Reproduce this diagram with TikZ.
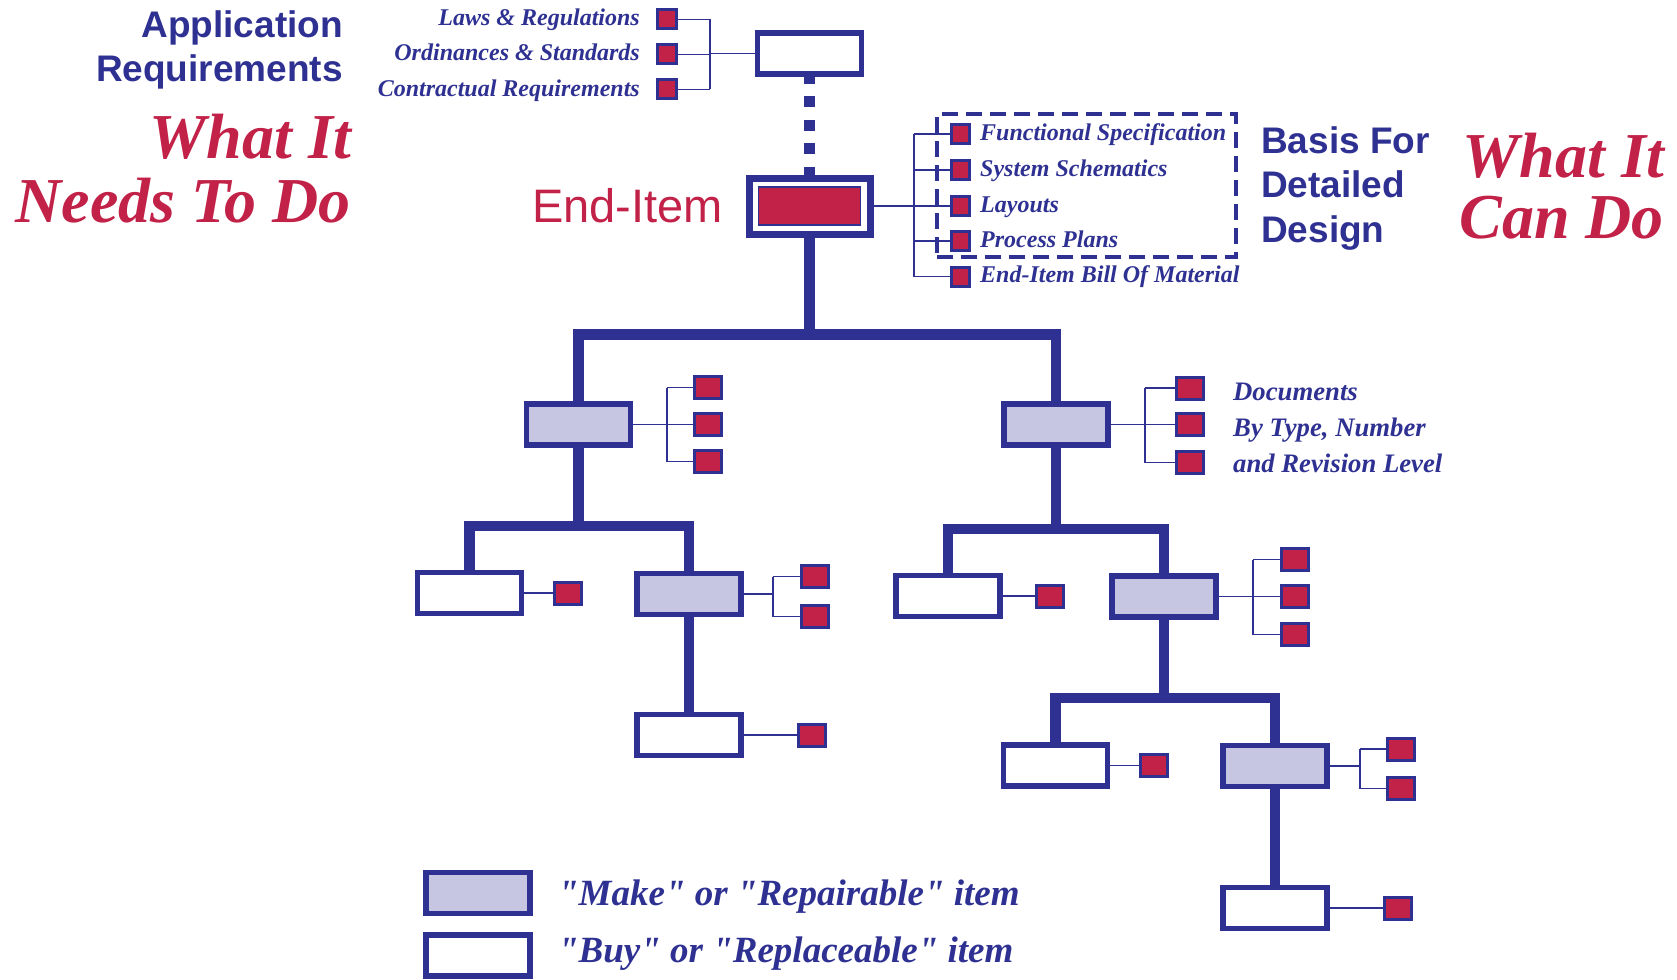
\documentclass[tikz,border=0pt]{standalone}
\usepackage{fontspec}
\setmainfont{Liberation Serif}
\newfontfamily\hv{Liberation Sans}
% legend font keeps the straight double quote as typed
\newfontfamily\plainserif{Liberation Serif}[Ligatures=TeXOff]
\definecolor{navy}{RGB}{46,49,146}
\definecolor{crim}{RGB}{194,33,72}
\definecolor{lav}{RGB}{199,198,226}

\begin{document}
\begin{tikzpicture}[x=1pt,y=-1pt,
  item/.style={draw=navy, line width=5.5pt, minimum width=104pt, minimum height=41pt, inner sep=0pt},
  make/.style={item, fill=lav},
  buy/.style={item, fill=white},
  doc/.style={draw=navy, fill=crim, line width=3pt, minimum width=27pt, minimum height=22pt, inner sep=0pt},
  sdoc/.style={doc, minimum width=18.5pt, minimum height=19pt},
  stem/.style={draw=navy, line width=10.5pt},
  tie/.style={draw=navy, line width=1.4pt},
  lbl/.style={text=navy, inner sep=0pt, font=\fontsize{24}{28}\selectfont\bfseries\itshape},
  doclbl/.style={text=navy, inner sep=0pt, font=\fontsize{26.7}{30}\selectfont\bfseries\itshape},
  leglbl/.style={text=navy, inner sep=0pt, font=\fontsize{37}{42}\selectfont\plainserif\bfseries\itshape},
  headsans/.style={text=navy, inner sep=0pt, font=\fontsize{37}{44}\selectfont\hv\bfseries},
  bigred/.style={text=crim, inner sep=0pt, font=\fontsize{64}{70}\selectfont\bfseries\itshape},
]
\useasboundingbox (0,0) rectangle (1677,979);

% ---------- headings ----------
\node[headsans, anchor=base east] (ar1) at (343,37.5) {Application};
\node[headsans, anchor=base east] (ar2) at (343,82) {Requirements};
\node[bigred, anchor=base east] (wn1) at (351,158) {What It};
\node[bigred, anchor=base east] (wn2) at (351,222.5) {Needs To Do};
\node[headsans, anchor=base west] (bd1) at (1261,153) {Basis For};
\node[headsans, anchor=base west] (bd2) at (1261,197.5) {Detailed};
\node[headsans, anchor=base west] (bd3) at (1261,242) {Design};
\node[bigred, anchor=base east] (wc1) at (1664,177) {What It};
\node[bigred, anchor=base east] (wc2) at (1664,238.5) {Can Do};

% ---------- requirements box and end item ----------
\node[buy] (top) at (809.5,53.5) {};
\node[draw=navy, fill=white, line width=7pt, minimum width=121pt, minimum height=56pt, inner sep=0pt] (end) at (809.5,206) {};
\node[draw=navy, fill=crim, line width=1.2pt, minimum width=102pt, minimum height=38pt, inner sep=0pt] (endin) at (809.5,206) {};
\node[text=crim, inner sep=0pt, anchor=base east, font=\fontsize{47}{52}\selectfont\hv] (eil) at (723,222) {End-Item};
\draw[navy, line width=10.5pt, dash pattern=on 11pt off 12.5pt, dash phase=4pt] (top.south) -- (end.north);

% requirement sources
\node[sdoc] (rq1) at (667,19.5) {};
\node[sdoc] (rq2) at (667,54.5) {};
\node[sdoc] (rq3) at (667,89.5) {};
\node[lbl, anchor=base east] (rl1) at (640,25.5) {Laws \& Regulations};
\node[lbl, anchor=base east] (rl2) at (640,61) {Ordinances \& Standards};
\node[lbl, anchor=base east] (rl3) at (640,96.5) {Contractual Requirements};
\coordinate (kTop) at (710,53.5);
\draw[tie] (top.west) -- (kTop);
\draw[tie] (kTop |- rq1.east) -- (kTop |- rq3.east);
\foreach \d in {rq1,rq2,rq3} \draw[tie] (kTop |- \d.east) -- (\d.east);

% end-item documents
\node[draw=navy, line width=3.3pt, dash pattern=on 16pt off 8pt, minimum width=299pt, minimum height=143pt, inner sep=0pt] (grp) at (1086.5,185.5) {};
\node[sdoc] (ed1) at (960.5,134) {};
\node[sdoc] (ed2) at (960.5,170) {};
\node[sdoc] (ed3) at (960.5,206) {};
\node[sdoc] (ed4) at (960.5,241) {};
\node[sdoc] (ed5) at (960.5,276.5) {};
\node[lbl, anchor=base west] (el1) at (980,140) {Functional Specification};
\node[lbl, anchor=base west] (el2) at (980,176) {System Schematics};
\node[lbl, anchor=base west] (el3) at (980,212) {Layouts};
\node[lbl, anchor=base west] (el4) at (980,247) {Process Plans};
\node[lbl, anchor=base west] (el5) at (980,282.5) {End-Item Bill Of Material};
\coordinate (kEnd) at (914,206);
\draw[tie] (end.east) -- (kEnd);
\draw[tie] (kEnd |- ed1.west) -- (kEnd |- ed5.west);
\foreach \d in {ed1,ed2,ed3,ed4,ed5} \draw[tie] (kEnd |- \d.west) -- (\d.west);

% ---------- product tree ----------
\node[make] (L1) at (578.5,424.5) {};
\node[make] (R1) at (1056,424.5) {};
\node[buy]  (L2a) at (469.5,593) {};
\node[make] (L2b) at (689,594) {};
\node[buy]  (L3) at (689,735) {};
\node[buy]  (R2a) at (948,596) {};
\node[make] (R2b) at (1164,596.5) {};
\node[buy]  (R3a) at (1055.5,765.5) {};
\node[make] (R3b) at (1275,766) {};
\node[buy]  (R4) at (1275,908) {};

\coordinate (b0) at (809.5,334.5);
\coordinate (bL) at (578.5,526);
\coordinate (bR) at (1056,529);
\coordinate (bR2) at (1164,698);
\draw[stem] (end.south) -- (b0);
\draw[stem] (L1.north) |- (b0) -| (R1.north);
\draw[stem] (L1.south) -- (bL);
\draw[stem] (L2a.north) |- (bL) -| (L2b.north);
\draw[stem] (L2b.south) -- (L3.north);
\draw[stem] (R1.south) -- (bR);
\draw[stem] (R2a.north) |- (bR) -| (R2b.north);
\draw[stem] (R2b.south) -- (bR2);
\draw[stem] (R3a.north) |- (bR2) -| (R3b.north);
\draw[stem] (R3b.south) -- (R4.north);

% documents of the tree items
\node[doc] (dL1a) at (708,387.5) {};
\node[doc] (dL1b) at (708,424.5) {};
\node[doc] (dL1c) at (708,461.5) {};
\coordinate (kL1) at (667,424.5);
\draw[tie] (L1.east) -- (kL1);
\draw[tie] (kL1 |- dL1a.west) -- (kL1 |- dL1c.west);
\foreach \d in {dL1a,dL1b,dL1c} \draw[tie] (kL1 |- \d.west) -- (\d.west);

\node[doc] (dR1a) at (1190,388) {};
\node[doc] (dR1b) at (1190,424.5) {};
\node[doc] (dR1c) at (1190,462.5) {};
\coordinate (kR1) at (1145,424.5);
\draw[tie] (R1.east) -- (kR1);
\draw[tie] (kR1 |- dR1a.west) -- (kR1 |- dR1c.west);
\foreach \d in {dR1a,dR1b,dR1c} \draw[tie] (kR1 |- \d.west) -- (\d.west);
\node[doclbl, anchor=base west] (dt1) at (1233,400) {Documents};
\node[doclbl, anchor=base west] (dt2) at (1233,436.5) {By Type, Number};
\node[doclbl, anchor=base west] (dt3) at (1233,472.5) {and Revision Level};

\node[doc] (dL2a) at (568,593) {};
\draw[tie] (L2a.east) -- (dL2a.west);

\node[doc] (dL2b1) at (815,576.5) {};
\node[doc] (dL2b2) at (815,616.5) {};
\coordinate (kL2b) at (773,594);
\draw[tie] (L2b.east) -- (kL2b);
\draw[tie] (kL2b |- dL2b1.west) -- (kL2b |- dL2b2.west);
\foreach \d in {dL2b1,dL2b2} \draw[tie] (kL2b |- \d.west) -- (\d.west);

\node[doc] (dL3) at (812,735) {};
\draw[tie] (L3.east) -- (dL3.west);

\node[doc] (dR2a) at (1050,596) {};
\draw[tie] (R2a.east) -- (dR2a.west);

\node[doc] (dR2b1) at (1294.5,559.5) {};
\node[doc] (dR2b2) at (1294.5,596.5) {};
\node[doc] (dR2b3) at (1294.5,634.5) {};
\coordinate (kR2b) at (1253,596.5);
\draw[tie] (R2b.east) -- (kR2b);
\draw[tie] (kR2b |- dR2b1.west) -- (kR2b |- dR2b3.west);
\foreach \d in {dR2b1,dR2b2,dR2b3} \draw[tie] (kR2b |- \d.west) -- (\d.west);

\node[doc] (dR3a) at (1154,765.5) {};
\draw[tie] (R3a.east) -- (dR3a.west);

\node[doc] (dR3b1) at (1401,749) {};
\node[doc] (dR3b2) at (1401,788.5) {};
\coordinate (kR3b) at (1360,766);
\draw[tie] (R3b.east) -- (kR3b);
\draw[tie] (kR3b |- dR3b1.west) -- (kR3b |- dR3b2.west);
\foreach \d in {dR3b1,dR3b2} \draw[tie] (kR3b |- \d.west) -- (\d.west);

\node[doc] (dR4) at (1398,908) {};
\draw[tie] (R4.east) -- (dR4.west);

% ---------- legend ----------
\node[make] (lgM) at (478,893) {};
\node[buy]  (lgB) at (478,955.5) {};
\node[leglbl, anchor=base west] (lgMt) at (558,905) {"Make" or "Repairable" item};
\node[leglbl, anchor=base west] (lgBt) at (558,962) {"Buy" or "Replaceable" item};
\end{tikzpicture}
\end{document}
